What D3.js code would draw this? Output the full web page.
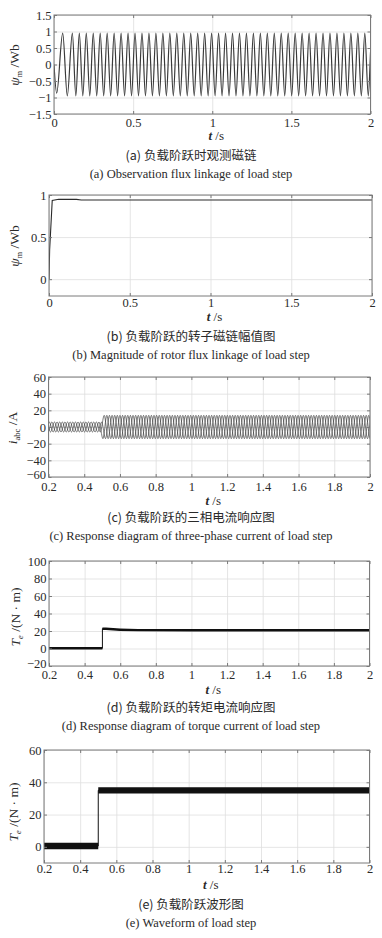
<!DOCTYPE html>
<html>
<head>
<meta charset="utf-8">
<script src="https://cdn.jsdelivr.net/npm/d3@7"></script>
<style>
  body { margin: 0; background: #fff; }
  svg text { font-family: "Liberation Serif", "Times New Roman", serif; fill: #2a2a2a; }
  svg text.cn { font-family: "Noto Sans CJK SC", sans-serif; }
</style>
</head>
<body>
<svg id="fig" width="382" height="938"></svg>
<script>
// ---- (a) observed flux: startup points, then peaks / troughs of the sine
var fluxStartT = [0, 0.017, 0.055, 0.084];
var fluxStartV = [0, -0.87, 0.95, -0.95];
var fluxPeakT = [0.116, 0.160, 0.204, 0.248, 0.292, 0.336, 0.380, 0.424, 0.468, 0.512,
                 0.556, 0.600, 0.644, 0.688, 0.732, 0.776, 0.820, 0.864, 0.908, 0.952,
                 0.996, 1.040, 1.084, 1.128, 1.172, 1.216, 1.260, 1.304, 1.348, 1.392,
                 1.436, 1.480, 1.524, 1.568, 1.612, 1.656, 1.700, 1.744, 1.788, 1.832,
                 1.876, 1.920, 1.964, 2.008];
var fluxTroughT = [0.138, 0.182, 0.226, 0.270, 0.314, 0.358, 0.402, 0.446, 0.490, 0.534,
                   0.578, 0.622, 0.666, 0.710, 0.754, 0.798, 0.842, 0.886, 0.930, 0.974,
                   1.018, 1.062, 1.106, 1.150, 1.194, 1.238, 1.282, 1.326, 1.370, 1.414,
                   1.458, 1.502, 1.546, 1.590, 1.634, 1.678, 1.722, 1.766, 1.810, 1.854,
                   1.898, 1.942, 1.986, 2.030];
var fluxAmp = 0.95;
var aXTicks = [0, 0.5, 1, 1.5, 2];
var aYTicks = [-1.5, -1, -0.5, 0, 0.5, 1, 1.5];

// ---- (b) rotor flux magnitude
var magT = [0, 0.004, 0.02, 0.06, 0.17, 0.2, 2];
var magV = [0, 0.35, 0.935, 0.95, 0.948, 0.94, 0.94];
var bXTicks = [0, 0.5, 1, 1.5, 2];
var bYTicks = [0, 0.5, 1];

// ---- (c) three-phase current: extrema of phase a, lag of phases b and c
var curPeakT = [0.160, 0.204, 0.248, 0.292, 0.336, 0.380, 0.424, 0.468, 0.512, 0.556,
                0.600, 0.644, 0.688, 0.732, 0.776, 0.820, 0.864, 0.908, 0.952, 0.996,
                1.040, 1.084, 1.128, 1.172, 1.216, 1.260, 1.304, 1.348, 1.392, 1.436,
                1.480, 1.524, 1.568, 1.612, 1.656, 1.700, 1.744, 1.788, 1.832, 1.876,
                1.920, 1.964, 2.008];
var curTroughT = [0.138, 0.182, 0.226, 0.270, 0.314, 0.358, 0.402, 0.446, 0.490, 0.534,
                  0.578, 0.622, 0.666, 0.710, 0.754, 0.798, 0.842, 0.886, 0.930, 0.974,
                  1.018, 1.062, 1.106, 1.150, 1.194, 1.238, 1.282, 1.326, 1.370, 1.414,
                  1.458, 1.502, 1.546, 1.590, 1.634, 1.678, 1.722, 1.766, 1.810, 1.854,
                  1.898, 1.942, 1.986, 2.030];
var phaseLagT = [0, 0.0147, 0.0293];
var loadStepT = 0.5;
var curAmpBefore = 6;
var curAmpAfter = 14;
var cXTicks = [0.2, 0.4, 0.6, 0.8, 1, 1.2, 1.4, 1.6, 1.8, 2];
var cYTicks = [-60, -40, -20, 0, 20, 40, 60];

// ---- (d) torque current response (mean trace + ripple band)
var dT    = [0.2, 0.5, 0.5, 0.52, 0.56, 0.6, 0.7, 1.0, 2.0];
var dMean = [0.3, 0.3, 22.6, 22.6, 22.0, 21.4, 21.0, 20.8, 20.8];
var dLo   = [-1.2, -1.2, 21.2, 21.2, 20.6, 20.0, 19.6, 19.4, 19.4];
var dHi   = [1.6, 1.6, 24.0, 24.0, 23.4, 22.8, 22.4, 22.2, 22.2];
var dXTicks = [0.2, 0.4, 0.6, 0.8, 1, 1.2, 1.4, 1.6, 1.8, 2];
var dYTicks = [-20, 0, 20, 40, 60, 80, 100];

// ---- (e) load step waveform
var eT    = [0.2, 0.5, 0.5, 2.0];
var eMean = [0.5, 0.5, 35, 35];
var eLo   = [-1.5, -1.5, 33, 33];
var eHi   = [2.5, 2.5, 37, 37];
var eXTicks = [0.2, 0.4, 0.6, 0.8, 1, 1.2, 1.4, 1.6, 1.8, 2];
var eYTicks = [0, 20, 40, 60];

var SERIF = '"Liberation Serif", "Times New Roman", serif';
var svg = d3.select("#fig");
var fmt = d3.format("~g");

function panel(o) {
    var x = d3.scaleLinear().domain(o.xDom).range([o.x0, o.x1]);
    var y = d3.scaleLinear().domain(o.yDom).range([o.y1, o.y0]);
    var w = o.x1 - o.x0, h = o.y1 - o.y0;
    var g = svg.append("g");

    // grid
    var gridStyle = function(s){
        s.select(".domain").remove();
        s.selectAll("line").attr("stroke", "#dedede").attr("stroke-width", 0.8);
    };
    g.append("g").attr("transform", "translate(0," + o.y1 + ")")
        .call(d3.axisBottom(x).tickValues(o.xTicks).tickSize(-h).tickFormat("")).call(gridStyle);
    g.append("g").attr("transform", "translate(" + o.x0 + ",0)")
        .call(d3.axisLeft(y).tickValues(o.yTicks).tickSize(-w).tickFormat("")).call(gridStyle);

    // data
    svg.append("clipPath").attr("id", "clip-" + o.id)
        .append("rect").attr("x", o.x0).attr("y", o.y0).attr("width", w).attr("height", h);
    var gd = g.append("g").attr("clip-path", "url(#clip-" + o.id + ")");
    o.draw(gd, x, y);

    // frame + inward ticks on all sides
    g.append("rect").attr("x", o.x0).attr("y", o.y0).attr("width", w).attr("height", h)
        .attr("fill", "none").attr("stroke", "#7a7a7a").attr("stroke-width", 1);
    var tickStyle = function(s){
        s.attr("font-family", null).attr("font-size", null);
        s.select(".domain").remove();
        s.selectAll("line").attr("stroke", "#7a7a7a");
        s.selectAll("text").style("font-family", SERIF).style("font-size", "12.5px").attr("fill", "#2a2a2a");
    };
    g.append("g").attr("transform", "translate(0," + o.y1 + ")")
        .call(d3.axisBottom(x).tickValues(o.xTicks).tickSize(-3).tickPadding(o.xPad).tickFormat(fmt)).call(tickStyle);
    g.append("g").attr("transform", "translate(0," + o.y0 + ")")
        .call(d3.axisTop(x).tickValues(o.xTicks).tickSize(-3).tickFormat("")).call(tickStyle);
    var yAx = g.append("g").attr("transform", "translate(" + o.x0 + ",0)")
        .call(d3.axisLeft(y).tickValues(o.yTicks).tickSize(-3).tickPadding(2.5).tickFormat(fmt)).call(tickStyle);
    // lowest y label sits right above the first x label: lift it a little
    if (o.liftLow) {
        yAx.selectAll(".tick text").filter(function(d){ return d === o.yDom[0]; }).attr("dy", "0.12em");
    }
    g.append("g").attr("transform", "translate(" + o.x1 + ",0)")
        .call(d3.axisRight(y).tickValues(o.yTicks).tickSize(-3).tickFormat("")).call(tickStyle);

    // x title
    var xt = g.append("text").attr("x", (o.x0 + o.x1) / 2 + 4).attr("y", o.xTitleY)
        .attr("text-anchor", "middle").style("font-family", SERIF).style("font-size", "13px");
    xt.append("tspan").attr("font-style", "italic").attr("font-weight", "bold").text("t");
    xt.append("tspan").text(" /s");

    // y title
    var yt = g.append("text").attr("transform", "translate(" + o.yTitleX + "," + o.yTitleY + ") rotate(-90)")
        .attr("text-anchor", "middle").style("font-family", SERIF).style("font-size", "13.5px");
    yt.append("tspan").attr("font-style", "italic").text(o.ySym);
    yt.append("tspan").attr("font-size", 8.5).attr("dy", 3).attr("font-style", o.subItalic ? "italic" : "normal").text(o.ySub);
    yt.append("tspan").attr("dy", -3).text(" " + o.yUnit);

    // captions
    g.append("text").attr("class", "cn").attr("x", 191).attr("y", o.capY1)
        .attr("text-anchor", "middle").style("font-size", "12.5px").attr("fill", "#333").text(o.capCn);
    g.append("text").attr("x", 191).attr("y", o.capY2)
        .attr("text-anchor", "middle").style("font-family", SERIF).style("font-size", "12.5px").text(o.capEn);
}

// (a)
panel({
    id: "a", x0: 54, x1: 370.5, y0: 15, y1: 114, xDom: [0, 2], yDom: [-1.5, 1.5],
    xTicks: aXTicks, yTicks: aYTicks, xPad: 4, xTitleY: 140, yTitleX: 19, yTitleY: 65,
    ySym: "\u03c8", ySub: "m", yUnit: "/Wb", subItalic: false,
    capY1: 160, capY2: 178,
    capCn: "(a) 负载阶跃时观测磁链", capEn: "(a) Observation flux linkage of load step",
    draw: function(gd, x, y) {
        var pts = fluxStartT.map(function(t, i){ return {t: t, v: fluxStartV[i]}; })
            .concat(fluxPeakT.map(function(t){ return {t: t, v: fluxAmp}; }))
            .concat(fluxTroughT.map(function(t){ return {t: t, v: -fluxAmp}; }));
        pts.sort(function(p, q){ return p.t - q.t; });
        gd.append("path").datum(pts)
            .attr("fill", "none").attr("stroke", "#3a3a3a").attr("stroke-width", 1.2)
            .attr("d", d3.line().x(function(d){ return x(d.t); }).y(function(d){ return y(d.v); })
                .curve(d3.curveMonotoneX));
    }
});

// (b)
panel({
    id: "b", x0: 49, x1: 372, y0: 195, y1: 296, xDom: [0, 2], yDom: [-0.2, 1],
    xTicks: bXTicks, yTicks: bYTicks, xPad: 2, xTitleY: 321, yTitleX: 19, yTitleY: 246,
    ySym: "\u03c8", ySub: "m", yUnit: "/Wb", subItalic: false,
    capY1: 341, capY2: 359,
    capCn: "(b) 负载阶跃的转子磁链幅值图", capEn: "(b) Magnitude of rotor flux linkage of load step",
    draw: function(gd, x, y) {
        gd.append("path").datum(d3.zip(magT, magV))
            .attr("fill", "none").attr("stroke", "#2a2a2a").attr("stroke-width", 1.1)
            .attr("d", d3.line().x(function(d){ return x(d[0]); }).y(function(d){ return y(d[1]); }));
    }
});

// (c)
panel({
    id: "c", x0: 48.5, x1: 370, y0: 377, y1: 477, xDom: [0.2, 2], yDom: [-60, 60],
    xTicks: cXTicks, yTicks: cYTicks, xPad: 5, xTitleY: 505, yTitleX: 17, yTitleY: 428,
    ySym: "i", ySub: "abc", yUnit: "/A", subItalic: false, liftLow: true,
    capY1: 522, capY2: 540,
    capCn: "(c) 负载阶跃的三相电流响应图", capEn: "(c) Response diagram of three-phase current of load step",
    draw: function(gd, x, y) {
        phaseLagT.forEach(function(lag) {
            var pts = curPeakT.map(function(t){ return {t: t + lag, s: 1}; })
                .concat(curTroughT.map(function(t){ return {t: t + lag, s: -1}; }));
            pts.sort(function(p, q){ return p.t - q.t; });
            pts.forEach(function(p){ p.v = p.s * (p.t < loadStepT ? curAmpBefore : curAmpAfter); });
            gd.append("path").datum(pts)
                .attr("fill", "none").attr("stroke", "#444").attr("stroke-width", 0.7)
                .attr("d", d3.line().x(function(d){ return x(d.t); }).y(function(d){ return y(d.v); })
                    .curve(d3.curveMonotoneX));
        });
    }
});

function bandDraw(T, lo, hi, mean) {
    return function(gd, x, y) {
        var rows = T.map(function(t, i){ return {t: t, lo: lo[i], hi: hi[i], m: mean[i]}; });
        gd.append("path").datum(rows).attr("fill", "#111")
            .attr("d", d3.area().x(function(d){ return x(d.t); })
                .y0(function(d){ return y(d.lo); }).y1(function(d){ return y(d.hi); }));
        gd.append("path").datum(rows).attr("fill", "none").attr("stroke", "#111").attr("stroke-width", 1)
            .attr("d", d3.line().x(function(d){ return x(d.t); }).y(function(d){ return y(d.m); }));
    };
}

// (d)
panel({
    id: "d", x0: 49, x1: 369.5, y0: 561, y1: 666, xDom: [0.2, 2], yDom: [-20, 100],
    xTicks: dXTicks, yTicks: dYTicks, xPad: 4, xTitleY: 694, yTitleX: 20, yTitleY: 617,
    ySym: "T", ySub: "e", yUnit: "/(N \u00b7 m)", subItalic: true, liftLow: true,
    capY1: 712, capY2: 730,
    capCn: "(d) 负载阶跃的转矩电流响应图", capEn: "(d) Response diagram of torque current of load step",
    draw: bandDraw(dT, dLo, dHi, dMean)
});

// (e)
panel({
    id: "e", x0: 44, x1: 369.5, y0: 750, y1: 863, xDom: [0.2, 2], yDom: [-10, 60],
    xTicks: eXTicks, yTicks: eYTicks, xPad: 1.5, xTitleY: 889, yTitleX: 18, yTitleY: 812,
    ySym: "T", ySub: "e", yUnit: "/(N \u00b7 m)", subItalic: true,
    capY1: 909, capY2: 927,
    capCn: "(e) 负载阶跃波形图", capEn: "(e) Waveform of load step",
    draw: bandDraw(eT, eLo, eHi, eMean)
});
</script>
</body>
</html>
